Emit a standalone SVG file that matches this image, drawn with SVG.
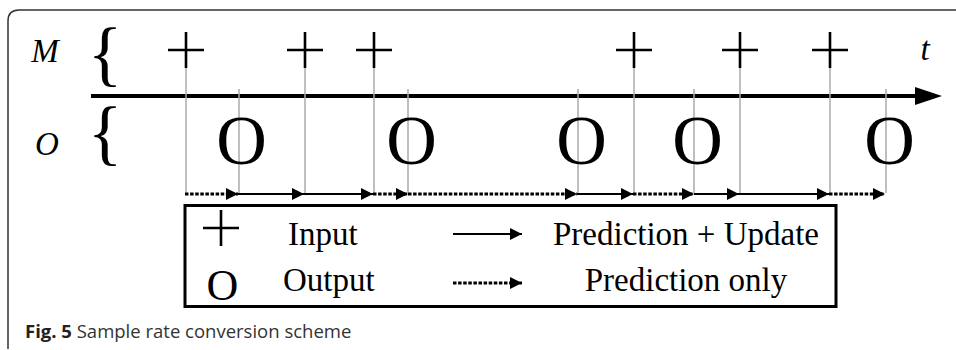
<svg xmlns="http://www.w3.org/2000/svg" width="956" height="350" viewBox="0 0 956 350">
<style>
.serif{font-family:"Liberation Serif","Times New Roman",serif;fill:#000}
.ital{font-family:"Liberation Serif","Times New Roman",serif;font-style:italic;fill:#000}
.guide{stroke:#aaa;stroke-width:1.5;fill:none}
.plus{stroke:#000;stroke-width:2.6;fill:none}
.solid{stroke:#000;stroke-width:2;fill:none}
.dash{stroke:#000;stroke-width:3;stroke-dasharray:3.5 1.6;fill:none}
.cap{font-family:"Open Sans","Noto Sans",sans-serif;font-size:18.5px;fill:#333}
</style>
<defs>
<marker id="ah" markerWidth="12" markerHeight="12" viewBox="0 0 12 12" refX="12" refY="6" orient="auto" markerUnits="userSpaceOnUse">
<path d="M0,0 L12,6 L0,12 Z" fill="#000"/>
</marker>
<path id="pl" d="M-18,0 H18 M0,-18 V18"/>
</defs>
<rect width="956" height="350" fill="#fff"/>
<path d="M8,349 V21 Q8,10 19,10 H956" fill="none" stroke="#333" stroke-width="1.5"/>

<g id="labels">
<text class="ital" x="45" y="62" font-size="33" text-anchor="middle">M</text>
<text class="ital" x="47" y="155" font-size="33" text-anchor="middle">O</text>
<text class="serif" x="105" y="77" font-size="72" text-anchor="middle">{</text>
<text class="serif" x="105" y="156" font-size="72" text-anchor="middle">{</text>
<text class="ital" x="925" y="60" font-size="33" text-anchor="middle">t</text>
</g>

<g id="axis">
<line x1="91" y1="96" x2="916" y2="96" stroke="#000" stroke-width="4"/>
<path d="M915,87 L942,96 L915,105 Z" fill="#000"/>
</g>

<g id="guides">
<line class="guide" x1="186" y1="68" x2="186" y2="193"/>
<line class="guide" x1="305" y1="68" x2="305" y2="193"/>
<line class="guide" x1="374" y1="68" x2="374" y2="193"/>
<line class="guide" x1="634" y1="68" x2="634" y2="193"/>
<line class="guide" x1="740" y1="68" x2="740" y2="193"/>
<line class="guide" x1="830" y1="68" x2="830" y2="193"/>
<line class="guide" x1="239" y1="89" x2="239" y2="193"/>
<line class="guide" x1="408" y1="89" x2="408" y2="193"/>
<line class="guide" x1="578" y1="89" x2="578" y2="193"/>
<line class="guide" x1="694" y1="89" x2="694" y2="193"/>
<line class="guide" x1="886" y1="89" x2="886" y2="193"/>
</g>

<g id="inputs">
<use href="#pl" class="plus" x="186" y="50"/>
<use href="#pl" class="plus" x="305" y="50"/>
<use href="#pl" class="plus" x="374" y="50"/>
<use href="#pl" class="plus" x="634" y="50"/>
<use href="#pl" class="plus" x="740" y="50"/>
<use href="#pl" class="plus" x="830" y="50"/>
</g>

<g id="outputs">
<text class="serif" x="241.5" y="164" font-size="70" text-anchor="middle">O</text>
<text class="serif" x="411.5" y="164" font-size="70" text-anchor="middle">O</text>
<text class="serif" x="581.5" y="164" font-size="70" text-anchor="middle">O</text>
<text class="serif" x="697.5" y="164" font-size="70" text-anchor="middle">O</text>
<text class="serif" x="889.5" y="164" font-size="70" text-anchor="middle">O</text>
</g>

<g id="connectors">
<line class="dash" x1="185" y1="194" x2="238" y2="194" marker-end="url(#ah)"/>
<line class="solid" x1="238" y1="194" x2="304" y2="194" marker-end="url(#ah)"/>
<line class="solid" x1="304" y1="194" x2="373" y2="194" marker-end="url(#ah)"/>
<line class="dash" x1="373" y1="194" x2="408" y2="194" marker-end="url(#ah)"/>
<line class="dash" x1="408" y1="194" x2="577" y2="194" marker-end="url(#ah)"/>
<line class="solid" x1="577" y1="194" x2="633" y2="194" marker-end="url(#ah)"/>
<line class="dash" x1="633" y1="194" x2="694" y2="194" marker-end="url(#ah)"/>
<line class="solid" x1="694" y1="194" x2="739" y2="194" marker-end="url(#ah)"/>
<line class="solid" x1="739" y1="194" x2="829" y2="194" marker-end="url(#ah)"/>
<line class="dash" x1="829" y1="194" x2="885" y2="194" marker-end="url(#ah)"/>
</g>

<g id="legend">
<rect x="185" y="205.5" width="651" height="101" fill="#fff" stroke="#000" stroke-width="3"/>
<use href="#pl" class="plus" x="221" y="228"/>
<text class="serif" x="222.5" y="300" font-size="44" text-anchor="middle">O</text>
<text class="serif" x="288" y="245" font-size="33">Input</text>
<text class="serif" x="283" y="291" font-size="33">Output</text>
<line class="solid" x1="453" y1="234" x2="522" y2="234" marker-end="url(#ah)"/>
<line class="dash" x1="453" y1="283" x2="522" y2="283" marker-end="url(#ah)"/>
<text class="serif" x="686" y="245" font-size="33" text-anchor="middle">Prediction + Update</text>
<text class="serif" x="686" y="291" font-size="33" text-anchor="middle">Prediction only</text>
</g>

<text class="cap" x="25" y="338"><tspan font-weight="bold" fill="#222">Fig. 5</tspan> Sample rate conversion scheme</text>
</svg>
